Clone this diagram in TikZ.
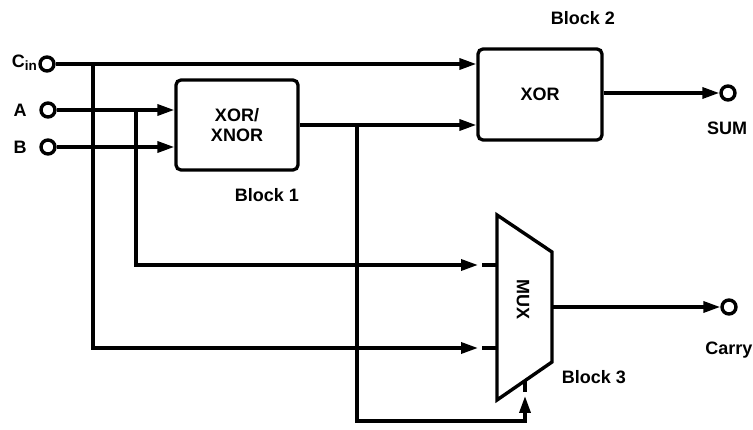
\documentclass[tikz,border=0pt]{standalone}
\usepackage{fontspec}
\setmainfont{Liberation Sans}
\usetikzlibrary{arrows.meta}
\tikzset{
  wire/.style={line width=3.4pt},
  tip/.style={-{Triangle[length=17pt,width=11pt]}},
  blk/.style={draw,line width=3.3pt,rounded corners=5pt,align=center,font=\lbl},
  term/.style={circle,draw,line width=3.4pt,minimum size=14pt,inner sep=0pt},
  txt/.style={font=\lbl,inner sep=0pt}
}
\newcommand{\lbl}{\fontsize{18}{20.5}\selectfont\bfseries}
\begin{document}
\begin{tikzpicture}[x=1pt,y=-1pt]
\useasboundingbox (0,0) rectangle (753,430);
% terminals
\node[term] (cin) at (47,64) {};
\node[term] (a) at (48,110) {};
\node[term] (b) at (48,147) {};
\node[term] (sum) at (728,93) {};
\node[term] (carry) at (729,307) {};
% labels
\node[txt,anchor=east] (cinl) at (37,63) {C\raisebox{-0.35ex}{\fontsize{13.5}{14}\selectfont\bfseries in}};
\node[txt] (al) at (20,110) {A};
\node[txt] (bl) at (20,147) {B};
\node[txt] (suml) at (727,128) {SUM};
\node[txt] (carryl) at (729,350) {Carry};
\node[txt] (b1) at (267,195) {Block 1};
\node[txt] (b2) at (583,18) {Block 2};
\node[txt] (b3) at (594,377) {Block 3};
% blocks
\node[blk,minimum width=122pt,minimum height=90pt] (xnor) at (237,125) {XOR/\\XNOR};
\node[blk,minimum width=124pt,minimum height=91pt] (xor) at (540,94.5) {XOR};
% MUX
\coordinate (mtl) at (497,215);
\coordinate (mtr) at (552,252);
\coordinate (mbr) at (552,362);
\coordinate (mbl) at (497,400);
\draw[wire,line join=miter] (mtl) -- (mtr) -- (mbr) -- (mbl) -- cycle;
\node[txt,rotate=-90] (muxl) at (523,300) {MUX};
\coordinate (m1) at (497,265);
\coordinate (m2) at (497,348);
\coordinate (mout) at (552,307);
\coordinate (msel) at (525,381);
% branch points
\coordinate (cinbr) at (93,64);
\coordinate (abr) at (136,110);
\coordinate (xnbr) at (357,125);
% wires
\draw[wire,tip] (cin) -- (xor.west |- cin);
\draw[wire,tip] (a) -- (xnor.west |- a);
\draw[wire,tip] (b) -- (xnor.west |- b);
\draw[wire,tip] (xnor.east |- xnbr) -- (xor.west |- xnbr);
\draw[wire,tip] (xor.east |- sum) -- (sum);
\draw[wire,tip] (mout) -- (carry);
\draw[wire,tip] (cinbr) |- ([xshift=-19]m2);
\draw[wire] ([xshift=-15]m2) -- (m2);
\draw[wire,tip] (abr) |- ([xshift=-19]m1);
\draw[wire] ([xshift=-15]m1) -- (m1);
\draw[wire,tip] (xnbr) |- (msel |- 0,421) -- ([yshift=-15]msel);
\draw[wire] ([yshift=-11]msel) -- (msel);
\end{tikzpicture}
\end{document}
